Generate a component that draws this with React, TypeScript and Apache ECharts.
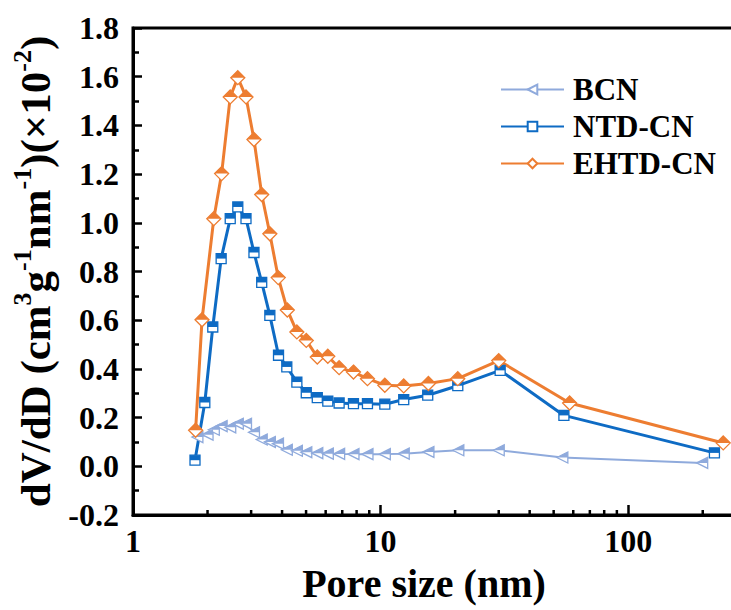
import React, { useEffect, useRef } from "react";
import * as echarts from "echarts";

const bcnX = [1.82, 2.0, 2.12, 2.28, 2.47, 2.65, 2.86, 3.08, 3.31, 3.57, 3.85, 4.18, 4.59, 5.01, 5.55, 6.12, 6.8, 7.77, 8.85, 10.4, 12.4, 15.6, 20.6, 30.0, 54.2, 199];
const bcnY = [0.12, 0.13, 0.15, 0.165, 0.16, 0.175, 0.175, 0.14, 0.11, 0.1, 0.093, 0.068, 0.064, 0.058, 0.054, 0.052, 0.051, 0.05, 0.05, 0.05, 0.052, 0.059, 0.066, 0.066, 0.036, 0.014];

const ntdX = [1.78, 1.95, 2.1, 2.27, 2.47, 2.65, 2.86, 3.08, 3.31, 3.57, 3.87, 4.18, 4.59, 5.01, 5.55, 6.12, 6.8, 7.77, 8.85, 10.4, 12.4, 15.5, 20.5, 30.4, 55.0, 223];
const ntdY = [0.025, 0.262, 0.572, 0.853, 1.017, 1.065, 1.017, 0.878, 0.755, 0.62, 0.456, 0.408, 0.346, 0.302, 0.282, 0.268, 0.26, 0.257, 0.257, 0.255, 0.274, 0.292, 0.331, 0.394, 0.209, 0.055];

const ehtdX = [1.79, 1.9, 2.12, 2.28, 2.47, 2.65, 2.86, 3.08, 3.31, 3.57, 3.86, 4.2, 4.59, 5.01, 5.55, 6.12, 6.8, 7.77, 8.85, 10.4, 12.4, 15.6, 20.5, 30.0, 58.0, 242];
const ehtdY = [0.148, 0.602, 1.017, 1.202, 1.517, 1.596, 1.517, 1.342, 1.116, 0.955, 0.775, 0.642, 0.552, 0.517, 0.449, 0.452, 0.405, 0.387, 0.36, 0.333, 0.33, 0.34, 0.36, 0.434, 0.26, 0.096];

const xMinorTicks = [2, 3, 4, 5, 6, 7, 8, 9, 20, 30, 40, 50, 60, 70, 80, 90, 200];

const X_MIN = 1;
const X_MAX = 270;
const Y_MIN = -0.2;
const Y_MAX = 1.8;

const FONT = "Liberation Serif, serif";
const C_BCN = "#8FAADC";
const C_NTD = "#0E6BC4";
const C_EHTD = "#ED7D31";

const zip = (xs: number[], ys: number[]) => xs.map((x, i) => [x, ys[i]]);

function makeSeries(
  name: string,
  xs: number[],
  ys: number[],
  color: string,
  lineWidth: number,
  full: { symbol: string; size: number[] },
  half: { symbol: string; size: number[]; offset: number[] }
) {
  const data = zip(xs, ys);
  return [
    {
      name,
      type: "line",
      data,
      symbol: full.symbol,
      symbolSize: full.size,
      showAllSymbol: true,
      lineStyle: { color, width: lineWidth },
      itemStyle: { color: "#ffffff", borderColor: color, borderWidth: 1.3 },
      emphasis: { disabled: true },
    },
    {
      name: name + " ",
      type: "line",
      data,
      symbol: half.symbol,
      symbolSize: half.size,
      symbolOffset: half.offset,
      showAllSymbol: true,
      lineStyle: { width: 0, opacity: 0 },
      itemStyle: { color, borderWidth: 0 },
      emphasis: { disabled: true },
    },
  ];
}

export default function App() {
  const ref = useRef<HTMLDivElement>(null);
  useEffect(() => {
    if (!ref.current) return;
    const chart = echarts.init(ref.current, null, { renderer: "svg" });
    const option: any = {
      animation: false,
      backgroundColor: "#ffffff",
      textStyle: { fontFamily: FONT, fontWeight: "bold" },
      grid: {
        left: 133,
        top: 28,
        right: -4,
        bottom: 95,
        outerBoundsMode: "none",
        containLabel: false,
        show: true,
        borderColor: "#000",
        borderWidth: 3,
        backgroundColor: "transparent",
      },
      legend: {
        data: ["BCN", "NTD-CN", "EHTD-CN"],
        orient: "vertical",
        left: 495,
        top: 69,
        itemWidth: 63,
        itemHeight: 12,
        itemGap: 6,
        selectedMode: false,
        textStyle: {
          fontFamily: FONT,
          fontWeight: "bold",
          fontSize: 31,
          color: "#000",
          lineHeight: 30,
          padding: [0, 0, 0, 4],
        },
      },
      xAxis: {
        type: "log",
        logBase: 10,
        min: X_MIN,
        max: X_MAX,
        name: "Pore size (nm)",
        nameLocation: "middle",
        nameGap: 48,
        nameTextStyle: { fontFamily: FONT, fontWeight: "bold", fontSize: 40, color: "#000", padding: [0, 20, 0, 0] },
        axisLine: { onZero: false, lineStyle: { color: "#000", width: 3 } },
        axisTick: { inside: true, length: 10, lineStyle: { color: "#000", width: 2.5 } },
        axisLabel: {
          fontFamily: FONT,
          fontWeight: "bold",
          fontSize: 32,
          color: "#000",
          margin: 10,
          showMaxLabel: false,
          formatter: (v: number) => String(Math.round(v)),
        },
        splitLine: { show: false },
        minorTick: { show: false },
      },
      yAxis: {
        type: "value",
        min: Y_MIN,
        max: Y_MAX,
        interval: 0.2,
        name: "{m|dV/dD (cm}{s|3}{m|g}{s|-1}{m|nm}{s|-1}{m|)(×10}{s|-2}{m|)}",
        nameLocation: "middle",
        nameGap: 66,
        nameRotate: 90,
        nameTextStyle: {
          fontFamily: FONT,
          fontWeight: "bold",
          color: "#000",
          rich: {
            m: { fontFamily: FONT, fontWeight: "bold", fontSize: 43, color: "#000", lineHeight: 48, verticalAlign: "bottom" },
            s: { fontFamily: FONT, fontWeight: "bold", fontSize: 26, color: "#000", lineHeight: 32, verticalAlign: "top" },
          },
        },
        axisLine: { show: true, onZero: false, lineStyle: { color: "#000", width: 3 } },
        axisTick: { inside: true, length: 9, lineStyle: { color: "#000", width: 2.5 } },
        minorTick: { show: true, splitNumber: 2, length: 6, lineStyle: { color: "#000", width: 2.5 } },
        axisLabel: {
          fontFamily: FONT,
          fontWeight: "bold",
          fontSize: 32,
          color: "#000",
          margin: 14,
          formatter: (v: number) => v.toFixed(1),
        },
        splitLine: { show: false },
        minorSplitLine: { show: false },
      },
      series: [
        ...makeSeries("BCN", bcnX, bcnY, C_BCN, 2, { symbol: "path://M0 10 L20 0 L20 20 Z", size: [11, 11] }, { symbol: "path://M0 10 L20 0 L20 10 Z", size: [11, 5.5], offset: [0, -2.75] }),
        ...makeSeries("NTD-CN", ntdX, ntdY, C_NTD, 3, { symbol: "rect", size: [10, 10] }, { symbol: "rect", size: [10, 5], offset: [0, -2.5] }),
        ...makeSeries("EHTD-CN", ehtdX, ehtdY, C_EHTD, 3, { symbol: "diamond", size: [14, 14] }, { symbol: "triangle", size: [14, 7], offset: [0, -3.5] }),
        {
          name: "minorTicks",
          type: "custom",
          silent: true,
          clip: false,
          data: xMinorTicks.map((v) => [v, Y_MIN]),
          renderItem: (params: any, api: any) => {
            const p = api.coord([api.value(0), api.value(1)]);
            return {
              type: "line",
              shape: { x1: p[0], y1: p[1], x2: p[0], y2: p[1] - 5 },
              style: { stroke: "#000", lineWidth: 2.5 },
            };
          },
          z: 5,
        },
      ],
    };
    chart.setOption(option);
    return () => chart.dispose();
  }, []);
  return <div ref={ref} style={{ position: "fixed", left: 0, top: 0, width: 731, height: 610 }} />;
}
